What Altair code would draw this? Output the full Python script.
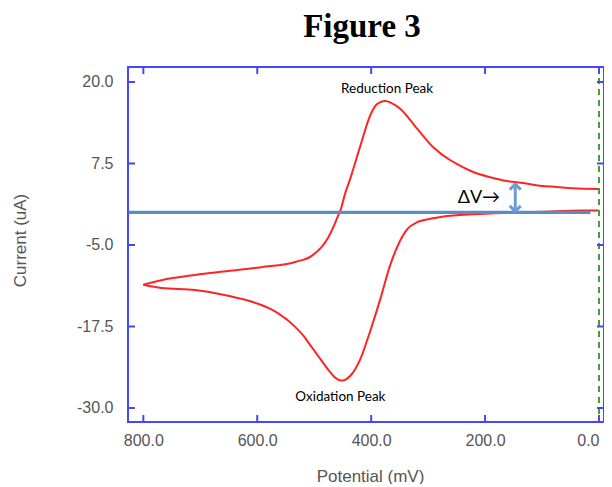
import altair as alt
import pandas as pd

# ---- data ----
upper_x = [0, 46, 74, 104, 133, 161, 191, 221, 249, 261, 291, 319, 349, 365, 375, 384, 393, 402, 419, 437, 446, 454, 458, 465, 475, 488, 505, 533, 593, 651, 709, 768, 800]
upper_y = [3.6, 3.7, 3.9, 4.1, 4.5, 4.8, 5.4, 6.2, 7.4, 8.0, 10.0, 12.8, 15.9, 16.8, 17.1, 16.9, 16.3, 14.8, 10.2, 5.1, 2.8, 0.3, -0.5, -2.0, -3.8, -5.4, -6.7, -7.6, -8.4, -9.0, -9.6, -10.4, -11.1]
lower_x = [800, 768, 709, 651, 593, 577, 563, 533, 519, 505, 489, 472, 465, 451, 437, 419, 402, 384, 367, 349, 337, 319, 291, 270, 244, 200, 100, 30, 0]
lower_y = [-11.1, -11.6, -11.9, -12.8, -14.2, -14.8, -15.5, -17.6, -18.9, -20.6, -22.5, -24.5, -25.2, -25.8, -25.1, -22.5, -18.3, -13.3, -8.2, -4.3, -2.6, -1.5, -0.9, -0.6, -0.4, -0.2, 0.1, 0.3, 0.3]

x_ticks = [800, 600, 400, 200, 0]
y_ticks = [-30, -17.5, -5, 7.5, 20]

baseline_x = [826, 15]
baseline_y = [0, 0]
marker_x = [0]

dv_x = [147]
dv_y_low = [0.5]
dv_y_high = [4.0]

label_text = ["Reduction Peak", "Oxidation Peak"]
label_x = [372, 454]
label_y = [18.9, -28.3]

dv_text = ["ΔV→"]
dv_text_x = [248]
dv_text_y = [2.2]

title_text = ["Figure 3"]

# ---- styling ----
W, H = 476, 355
FRAME = "#4646ff"
RED = "#ff2424"
BLUE_LINE = "#5b8cc4"
ARROW = "#6b9bd1"
GREEN = "#3aa33a"

XS = alt.Scale(domain=[-8.8, 826.9], reverse=True, nice=False, zero=False)
YS = alt.Scale(domain=[-32.15, 22.3], nice=False, zero=False)

lab_expr = "datum.value < 0 ? '-' + format(abs(datum.value), '.1f') : format(datum.value, '.1f')"

XAX = alt.Axis(values=x_ticks, labelExpr=lab_expr, domain=False, ticks=False, grid=False,
               labelAlign={"condition": {"test": "datum.value == 0", "value": "right"}, "value": "center"},
               labelPadding=10, title="Potential (mV)", titleX=242, titleY=54, titleBaseline="middle")
YAX = alt.Axis(values=y_ticks, labelExpr=lab_expr, domain=False, ticks=False, grid=False,
               labelPadding=15, title="Current (uA)", titleX=-108, titleY=173,
               titleAngle=-90, titleAlign="center", titleBaseline="middle")


def X(field):
    return alt.X(field, scale=XS, axis=XAX)


def Y(field):
    return alt.Y(field, scale=YS, axis=YAX)


curve_df = pd.DataFrame({
    "x": upper_x + lower_x,
    "y": upper_y + lower_y,
    "branch": ["upper"] * len(upper_x) + ["lower"] * len(lower_x),
})

curve = alt.Chart(curve_df).mark_line(color=RED, strokeWidth=2, interpolate="monotone").encode(
    x=X("x:Q"), y=Y("y:Q"), detail="branch:N",
)

base_df = pd.DataFrame({"x": baseline_x, "y": baseline_y})
baseline = alt.Chart(base_df).mark_line(color=BLUE_LINE, strokeWidth=3.2).encode(x=X("x:Q"), y=Y("y:Q"))

green = alt.Chart(pd.DataFrame({"x": marker_x})).mark_rule(color=GREEN, strokeWidth=2, strokeDash=[6, 5]).encode(
    x=X("x:Q"), y=alt.value(0), y2=alt.value(H)
)

dv_df = pd.DataFrame({"x": dv_x, "y1": dv_y_low, "y2": dv_y_high})
dv_rule = alt.Chart(dv_df).mark_rule(color=ARROW, strokeWidth=3).encode(x=X("x:Q"), y=Y("y1:Q"), y2="y2:Q")
dv_top = alt.Chart(dv_df).mark_point(shape="M-1,0.6L0,-0.4L1,0.6", filled=False, color=ARROW, strokeWidth=3,
                                     size=120, opacity=1).encode(x=X("x:Q"), y=Y("y2:Q"))
dv_bot = alt.Chart(dv_df).mark_point(shape="M-1,-0.6L0,0.4L1,-0.6", filled=False, color=ARROW, strokeWidth=3,
                                     size=120, opacity=1).encode(x=X("x:Q"), y=Y("y1:Q"))

labels = alt.Chart(pd.DataFrame({"t": label_text, "x": label_x, "y": label_y})).mark_text(
    font="Lato", fontSize=13.5, color="black", align="center", baseline="middle"
).encode(x=X("x:Q"), y=Y("y:Q"), text="t:N")

dv_label = alt.Chart(pd.DataFrame({"t": dv_text, "x": dv_text_x, "y": dv_text_y})).mark_text(
    font="Lato", fontSize=18, color="black", align="left", baseline="middle"
).encode(x=X("x:Q"), y=Y("y:Q"), text="t:N")

title = alt.Chart(pd.DataFrame({"t": title_text})).mark_text(
    font="Liberation Serif", fontSize=33, fontWeight="bold", color="black", align="center", baseline="alphabetic"
).encode(x=alt.value(234), y=alt.value(-30), text="t:N")

xt = pd.DataFrame({"v": x_ticks})
yt = pd.DataFrame({"v": y_ticks})
TL = 7
tick_bottom = alt.Chart(xt).mark_rule(color=FRAME, strokeWidth=2).encode(
    x=X("v:Q"), y=alt.value(H), y2=alt.value(H - TL))
tick_top = alt.Chart(xt).mark_rule(color=FRAME, strokeWidth=2).encode(
    x=X("v:Q"), y=alt.value(0), y2=alt.value(TL))
tick_left = alt.Chart(yt).mark_rule(color=FRAME, strokeWidth=2).encode(
    y=Y("v:Q"), x=alt.value(0), x2=alt.value(TL))
tick_right = alt.Chart(yt).mark_rule(color=FRAME, strokeWidth=2).encode(
    y=Y("v:Q"), x=alt.value(W), x2=alt.value(W - TL))

chart = alt.layer(
    curve, baseline, green, dv_rule, dv_top, dv_bot, labels, dv_label, title,
    tick_bottom, tick_top, tick_left, tick_right,
).properties(
    width=W, height=H,
    autosize=alt.AutoSizeParams(type="none"),
    padding={"left": 120, "top": 59, "right": 0, "bottom": 62},
).configure_view(
    stroke=FRAME, strokeWidth=2
).configure_axis(
    labelFont="Liberation Sans", labelFontSize=16, labelColor="#555555",
    titleFont="Liberation Sans", titleFontSize=17, titleColor="#555555", titleFontWeight="normal",
)

chart.save("out.html", embed_options={"renderer": "svg", "actions": False})
